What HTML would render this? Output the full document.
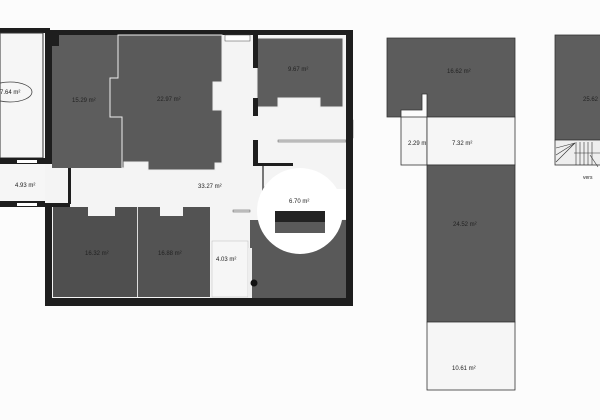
<!DOCTYPE html>
<html><head><meta charset="utf-8"><style>
html,body{margin:0;padding:0;background:#fff;width:600px;height:420px;overflow:hidden}
svg{display:block}
text{font-family:"Liberation Sans",sans-serif;font-size:6px;fill:#222}
</style></head><body>
<svg width="600" height="420" viewBox="0 0 600 420" xmlns="http://www.w3.org/2000/svg">
<rect width="600" height="420" fill="#fcfcfc"/>
<rect x="45" y="30" width="308" height="276" fill="#1e1e1e"/>
<rect x="0" y="28" width="50" height="5" fill="#1e1e1e"/>
<rect x="52" y="35" width="294" height="263" fill="#f4f4f4"/>
<rect x="0" y="33" width="43" height="125" fill="#f6f6f6" stroke="#333" stroke-width="1"/>
<ellipse cx="10" cy="92" rx="22" ry="10" fill="none" stroke="#444" stroke-width="0.8"/>
<text x="0" y="94">7.64 m²</text>
<rect x="0" y="158" width="52" height="6" fill="#1e1e1e"/>
<rect x="0" y="201" width="52" height="6" fill="#1e1e1e"/>
<rect x="0" y="164" width="52" height="37" fill="#f6f6f6"/>
<rect x="17" y="160" width="20" height="3" fill="#fff"/>
<rect x="17" y="203" width="20" height="3" fill="#fff"/>
<text x="15" y="187">4.93 m²</text>
<rect x="45" y="160" width="25" height="47" fill="#f4f4f4"/>
<rect x="45" y="160" width="25" height="4" fill="#1e1e1e"/>
<rect x="45" y="203" width="25" height="4" fill="#1e1e1e"/>
<rect x="68" y="164" width="3" height="40" fill="#1e1e1e"/>
<!-- top rooms -->
<path d="M52 35 H118 V78 H110 V117 H122 V168 H52 Z" fill="#5d5d5d"/>
<rect x="45" y="33" width="14" height="13" fill="#1e1e1e"/>
<path d="M118 35 H222 V82 H213 V110 H222 V163 H215 V170 H148 V162 H124 V168 H122 V117 H110 V78 H118 Z" fill="#5a5a5a" stroke="#eee" stroke-width="1"/>
<text x="72" y="102">15.29 m²</text>
<text x="157" y="101">22.97 m²</text>
<path d="M257 38 H343 V107 H320 V98 H278 V107 H257 Z" fill="#5d5d5d" stroke="#eee" stroke-width="1"/>
<rect x="253" y="35" width="5" height="33" fill="#1e1e1e"/>
<rect x="253" y="98" width="5" height="18" fill="#1e1e1e"/>
<text x="288" y="71">9.67 m²</text>
<rect x="225" y="35" width="25" height="6" fill="#fff" stroke="#444" stroke-width="0.5"/>
<rect x="347" y="120" width="6" height="18" fill="#fff" stroke="#444" stroke-width="0.5"/>
<rect x="278" y="140" width="68" height="2" fill="#ddd" stroke="#555" stroke-width="0.5"/>
<rect x="253" y="140" width="5" height="26" fill="#1e1e1e"/>
<rect x="253" y="163" width="40" height="3" fill="#1e1e1e"/>
<rect x="262" y="166" width="2" height="42" fill="#777"/>
<rect x="264" y="187" width="62" height="2" fill="#ddd" stroke="#555" stroke-width="0.5"/>
<rect x="233" y="210" width="17" height="2" fill="#ddd" stroke="#555" stroke-width="0.5"/>
<text x="198" y="188">33.27 m²</text>
<path d="M53 207 H88 V216 H115 V207 H137 V297 H53 Z" fill="#4f4f4f"/>
<path d="M138 207 H160 V216 H183 V207 H210 V297 H138 Z" fill="#535353"/>
<line x1="137.5" y1="207" x2="137.5" y2="297" stroke="#ddd" stroke-width="1"/>
<text x="85" y="255">16.32 m²</text>
<text x="158" y="255">16.88 m²</text>
<rect x="212" y="241" width="36" height="56" fill="#f6f6f6" stroke="#bbb" stroke-width="0.5"/>
<text x="216" y="261">4.03 m²</text>
<rect x="250" y="220" width="96" height="78" fill="#595959"/>
<rect x="248" y="248" width="4" height="50" fill="#eee"/>
<circle cx="300" cy="211" r="43" fill="#fff"/>
<rect x="264" y="189" width="82" height="30" fill="#fff"/>
<rect x="275" y="211" width="50" height="11" fill="#222"/>
<rect x="275" y="222" width="50" height="11" fill="#5a5a5a"/>
<text x="289" y="203">6.70 m²</text>
<circle cx="254" cy="283" r="3.5" fill="#111"/>
<rect x="346" y="35" width="7" height="270" fill="#1e1e1e"/>
<rect x="45" y="298" width="308" height="8" fill="#1e1e1e"/>
<path d="M387 38 H515 V117 H427 V94 H422 V110 H401 V117 H387 Z" fill="#5c5c5c" stroke="#333" stroke-width="0.8"/>
<text x="447" y="73">16.62 m²</text>
<rect x="401" y="117" width="26" height="48" fill="#f6f6f6" stroke="#333" stroke-width="0.8"/>
<text x="408" y="145">2.29 m²</text>
<rect x="427" y="117" width="88" height="48" fill="#f6f6f6" stroke="#333" stroke-width="0.8"/>
<text x="452" y="145">7.32 m²</text>
<rect x="427" y="165" width="88" height="157" fill="#5c5c5c" stroke="#333" stroke-width="0.8"/>
<text x="453" y="226">24.52 m²</text>
<rect x="427" y="322" width="88" height="68" fill="#f6f6f6" stroke="#333" stroke-width="0.8"/>
<text x="452" y="370">10.61 m²</text>
<rect x="555" y="35" width="50" height="105" fill="#5e5e5e" stroke="#333" stroke-width="0.8"/>
<text x="583" y="101">25.62</text>
<rect x="555" y="140" width="50" height="25" fill="#eee" stroke="#333" stroke-width="0.8"/>
<g stroke="#333" stroke-width="0.6">
<line x1="556" y1="162" x2="575" y2="143"/><line x1="556" y1="155" x2="575" y2="143"/><line x1="556" y1="148" x2="575" y2="143"/>
<line x1="576" y1="142" x2="576" y2="165"/><line x1="580" y1="142" x2="580" y2="165"/><line x1="584" y1="142" x2="584" y2="165"/><line x1="588" y1="142" x2="588" y2="165"/><line x1="592" y1="142" x2="592" y2="165"/>
<line x1="574" y1="153" x2="600" y2="153"/><line x1="590" y1="155" x2="598" y2="167"/>
</g>
<text x="583" y="179" style="font-size:5px">vers</text>
</svg>
</body></html>
